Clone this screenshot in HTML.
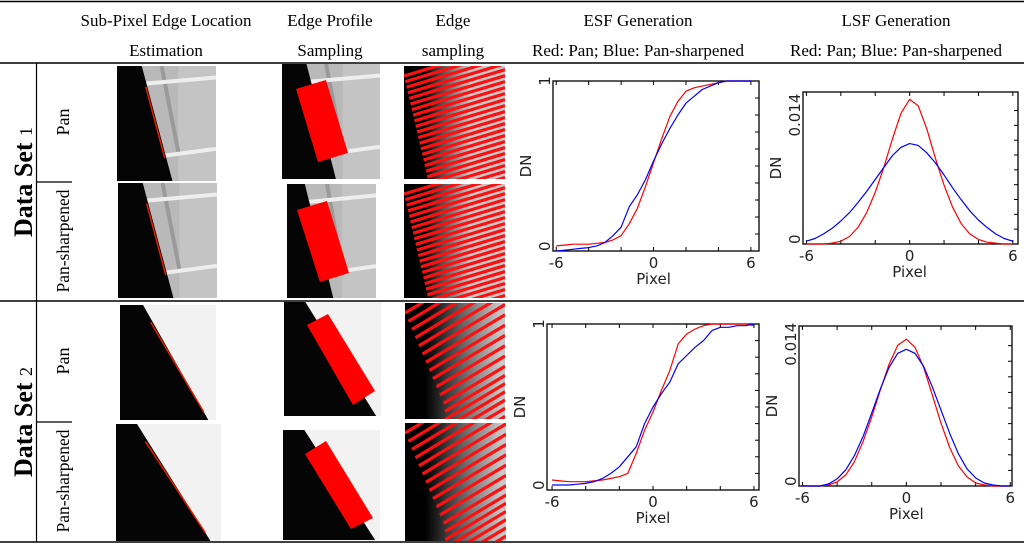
<!DOCTYPE html>
<html><head><meta charset="utf-8"><style>
html,body{margin:0;padding:0;background:#fff;width:1024px;height:544px;overflow:hidden;}
svg{display:block;}
.hd{font-family:"Liberation Serif",serif;font-size:17px;fill:#000;text-anchor:middle;}
.ax{font-family:"DejaVu Sans",sans-serif;font-size:15px;fill:#222;}
</style></head><body>
<svg id="fig" width="1024" height="544" viewBox="0 0 1024 544" xmlns="http://www.w3.org/2000/svg">
<g stroke="#000" fill="none">
<line x1="0" y1="1.5" x2="1024" y2="1.5" stroke-width="1.5"/>
<line x1="0" y1="63" x2="1024" y2="63" stroke-width="1.5"/>
<line x1="0" y1="301" x2="1024" y2="301" stroke-width="1.5"/>
<line x1="0" y1="542" x2="1024" y2="542" stroke-width="1.5"/>
<line x1="36.5" y1="63" x2="36.5" y2="542" stroke-width="1.2"/>
<line x1="36" y1="182" x2="72" y2="182" stroke-width="1.2"/>
<line x1="36" y1="422" x2="72" y2="422" stroke-width="1.2"/>
</g>
<g>
<text class="hd" x="166" y="26">Sub-Pixel Edge Location</text>
<text class="hd" x="166" y="56">Estimation</text>
<text class="hd" x="330" y="26">Edge Profile</text>
<text class="hd" x="330" y="56">Sampling</text>
<text class="hd" x="453" y="26">Edge</text>
<text class="hd" x="453" y="56">sampling</text>
<text class="hd" x="638" y="26">ESF Generation</text>
<text class="hd" x="638" y="56">Red: Pan; Blue: Pan-sharpened</text>
<text class="hd" x="896" y="26">LSF Generation</text>
<text class="hd" x="896" y="56">Red: Pan; Blue: Pan-sharpened</text>
</g>
<g font-family="Liberation Serif, serif" fill="#000">
<text transform="translate(32,182) rotate(-90)" text-anchor="middle" font-size="26" font-weight="bold">Data Set <tspan font-size="18" font-weight="normal">1</tspan></text>
<text transform="translate(32,422) rotate(-90)" text-anchor="middle" font-size="26" font-weight="bold">Data Set <tspan font-size="18" font-weight="normal">2</tspan></text>
<text transform="translate(69,122) rotate(-90)" text-anchor="middle" font-size="18">Pan</text>
<text transform="translate(69,241) rotate(-90)" text-anchor="middle" font-size="17.5">Pan-sharpened</text>
<text transform="translate(69,361) rotate(-90)" text-anchor="middle" font-size="18">Pan</text>
<text transform="translate(69,481) rotate(-90)" text-anchor="middle" font-size="17.5">Pan-sharpened</text>
</g>
<g id="imgs"></g>
<g id="charts"></g>
</svg>
<script>
// ---- chart data ----
const xs = [-6,-5.5,-5,-4.5,-4,-3.5,-3,-2.5,-2,-1.5,-1,-0.5,0,0.5,1,1.5,2,2.5,3,3.5,4,4.5,5,5.5,6];
const esf1Pan = [0.03,0.035,0.04,0.04,0.04,0.045,0.05,0.065,0.09,0.16,0.25,0.38,0.52,0.66,0.79,0.88,0.94,0.96,0.97,0.98,0.99,1,1,1,1];
const esf1Sharp = [0.0,0.005,0.01,0.015,0.02,0.03,0.05,0.09,0.14,0.26,0.33,0.42,0.53,0.63,0.72,0.8,0.87,0.91,0.95,0.97,0.99,1,1,1,1];
const lsf1Pan = [0,0,0,0.0001,0.0003,0.0008,0.0018,0.0034,0.0056,0.0083,0.0114,0.0142,0.0157,0.0150,0.0125,0.0093,0.0064,0.0040,0.0022,0.0011,0.0005,0.0002,0.0001,0,0];
const lsf1Sharp = [0.0003,0.0006,0.0011,0.0017,0.0025,0.0034,0.0045,0.0057,0.0070,0.0083,0.0096,0.0105,0.0109,0.0107,0.0099,0.0088,0.0075,0.0061,0.0048,0.0036,0.0026,0.0018,0.0011,0.0006,0.0003];
const esf2Pan = [0.06,0.055,0.05,0.05,0.05,0.055,0.06,0.07,0.08,0.1,0.22,0.36,0.47,0.6,0.72,0.88,0.94,0.97,0.99,1,1,1,1,1,0.99];
const esf2Sharp = [0.03,0.03,0.03,0.035,0.04,0.05,0.07,0.1,0.14,0.2,0.26,0.4,0.5,0.58,0.65,0.76,0.81,0.86,0.9,0.96,0.98,0.98,0.99,0.99,1];
const lsf2Pan = [0,0,0,0.0001,0.0004,0.0011,0.0024,0.0044,0.0068,0.0095,0.0120,0.0139,0.0145,0.0137,0.0117,0.0090,0.0062,0.0038,0.0020,0.0009,0.0003,0.0001,0,0,0];
const lsf2Sharp = [0,0,0,0.0002,0.0007,0.0016,0.0030,0.0049,0.0072,0.0096,0.0117,0.0131,0.0135,0.0131,0.0118,0.0098,0.0075,0.0052,0.0032,0.0017,0.0008,0.0003,0.0001,0,0];
const xTickLabels = ['-6','0','6'];
const xTickValues = [-6,0,6];

const NS='http://www.w3.org/2000/svg';
function mk(tag, attrs, parent){const e=document.createElementNS(NS,tag);for(const k in attrs)e.setAttribute(k,attrs[k]);parent.appendChild(e);return e;}

function chart(cfg){
  const g=mk('g',{},document.getElementById('charts'));
  
  
  const sx=v=>cfg.x0+(v-cfg.dx[0])/(cfg.dx[1]-cfg.dx[0])*(cfg.x1-cfg.x0);
  const sy=v=>cfg.y1-(v-cfg.dy[0])/(cfg.dy[1]-cfg.dy[0])*(cfg.y1-cfg.y0);
  const box=mk('rect',{x:cfg.x0,y:cfg.y0,width:cfg.x1-cfg.x0,height:cfg.y1-cfg.y0,fill:'none',stroke:'#000','stroke-width':1.3},g);
  
  
  for(let t=-6;t<=6;t+=2){const x=sx(t);
    mk('line',{x1:x,y1:cfg.y0,x2:x,y2:cfg.y0+4,stroke:'#000'},g);
    mk('line',{x1:x,y1:cfg.y1,x2:x,y2:cfg.y1-4,stroke:'#000'},g);}
  for(let i=1;i<10;i++){const y=sy(cfg.dy[0]+(cfg.yTop-cfg.dy[0])*i/10*(cfg.nt||1));
    if(y>cfg.y0+2) mk('line',{x1:cfg.x1,y1:y,x2:cfg.x1-4,y2:y,stroke:'#000'},g);}
  xTickLabels.forEach((lab,i)=>{const t=mk('text',{x:sx(xTickValues[i]),y:cfg.y1+17,class:'ax','text-anchor':'middle'},g);t.textContent=lab;
    
    });
  const xl=mk('text',{x:sx(0),y:cfg.y1+33,class:'ax','text-anchor':'middle','font-size':'16'},g);xl.textContent='Pixel';
  
  
  const yl=mk('text',{transform:`translate(${cfg.x0-22},${(cfg.y0+cfg.y1)/2}) rotate(-90)`,class:'ax','text-anchor':'middle','font-size':'13'},g);yl.textContent='DN';
  
  
  const y0l=mk('text',{transform:`translate(${cfg.x0-3},${sy(0)}) rotate(-90)`,class:'ax','text-anchor':'start','font-size':'14'},g);y0l.textContent='0';
  
  
  const ytl=mk('text',{transform:`translate(${cfg.x0-3},${sy(cfg.yTop)}) rotate(-90)`,class:'ax','text-anchor':'middle','font-size':'14'},g);ytl.textContent=cfg.yTopLabel;
  
  
  [[cfg.pan,'#ff0000','pan-series'],[cfg.sharp,'#0000ff','pan-sharpened-series']].forEach(([arr,col,nm])=>{
    const d=arr.map((v,i)=>(i?'L':'M')+sx(xs[i]).toFixed(1)+','+sy(v).toFixed(1)).join('');
    const p=mk('path',{d:d,fill:'none',stroke:col,'stroke-width':1.2,'stroke-linejoin':'round'},g);
    
    
  });
}
chart({name:'esf-chart-set1',x0:553,x1:759,y0:81,y1:251,dx:[-6.2,6.5],dy:[0,1],yTop:1,yTopLabel:'1',pan:esf1Pan,sharp:esf1Sharp});
chart({name:'lsf-chart-set1',x0:803,x1:1018,y0:92,y1:244,dx:[-6.2,6.3],dy:[0,0.0165],yTop:0.014,yTopLabel:'0.014',nt:1.15,pan:lsf1Pan,sharp:lsf1Sharp});
chart({name:'esf-chart-set2',x0:547,x1:759,y0:324,y1:490,dx:[-6.3,6.3],dy:[0,1],yTop:1,yTopLabel:'1',pan:esf2Pan,sharp:esf2Sharp});
chart({name:'lsf-chart-set2',x0:799,x1:1012,y0:326,y1:486,dx:[-6.2,6.1],dy:[0,0.0158],yTop:0.014,yTopLabel:'0.014',nt:1.1,pan:lsf2Pan,sharp:lsf2Sharp});

// ---- decorative image panels ----
const IM=document.getElementById('imgs');
function panel(name,x,y,w,h,bg){const g=mk('g',{},IM);
  
  
  mk('clipPath',{id:'c'+name},g).appendChild(document.createElementNS(NS,'rect'));
  const cr=g.querySelector('clipPath rect');cr.setAttribute('x',x);cr.setAttribute('y',y);cr.setAttribute('width',w);cr.setAttribute('height',h);
  const inner=mk('g',{'clip-path':`url(#c${name})`},g);
  mk('rect',{x:x,y:y,width:w,height:h,fill:bg},inner);return inner;}
function p(pts){return pts.map(a=>a.join(',')).join(' ');}
function ds1(name,x,y,w,h,ex0,ex1,rect,line){
  const g=panel(name,x,y,w,h,'#b9b9b9');
  mk('rect',{x:x+w*0.62,y:y,width:w*0.38,height:h,fill:'#c4c4c4'},g);
  mk('line',{x1:x+w*0.45,y1:y,x2:x+w*0.62,y2:y+h*0.75,stroke:'#9a9a9a','stroke-width':4},g);
  mk('line',{x1:x+w*0.2,y1:y+h*0.16,x2:x+w,y2:y+h*0.1,stroke:'#eee','stroke-width':4},g);
  mk('line',{x1:x+w*0.3,y1:y+h*0.8,x2:x+w,y2:y+h*0.72,stroke:'#eee','stroke-width':4},g);
  mk('polygon',{points:p([[x,y],[x+w*ex0,y],[x+w*ex1,y+h],[x,y+h]]),fill:'#050505'},g);
  if(line) mk('line',{x1:x+w*(ex0+0.04),y1:y+h*0.18,x2:x+w*(ex0+0.04+(ex1-ex0)*0.62),y2:y+h*0.8,stroke:'#e02000','stroke-width':1.5},g);
  if(rect) mk('polygon',{points:p(rect),fill:'#ff0000'},g);
}
ds1('set1-pan-edge-location',117,66,99,115,0.25,0.56,null,true);
ds1('set1-sharp-edge-location',118,183,99,115,0.25,0.56,null,true);
ds1('set1-pan-edge-profile',282,64,98,115,0.25,0.55,[[296,89],[326,80],[348,153],[318,162]],false);
ds1('set1-sharp-edge-profile',287,184,89,114,0.2,0.52,[[297,210],[327,201],[349,273],[320,282]],false);
function ds2(name,x,y,w,h,ex0,ex1,rect,line){
  const g=panel(name,x,y,w,h,'#f2f2f2');
  mk('polygon',{points:p([[x,y],[x+w*ex0,y],[x+w*ex1,y+h],[x,y+h]]),fill:'#050505'},g);
  if(line) mk('line',{x1:x+w*(ex0+0.08),y1:y+h*0.15,x2:x+w*(ex0+(ex1-ex0)*0.93),y2:y+h*0.93,stroke:'#e02000','stroke-width':1.5},g);
  if(rect) mk('polygon',{points:p(rect),fill:'#ff0000'},g);
}
ds2('set2-pan-edge-location',120,305,96,115,0.24,0.92,null,true);
ds2('set2-sharp-edge-location',116,424,105,117,0.2,0.9,null,true);
ds2('set2-pan-edge-profile',284,302,97,114,0.22,0.95,[[307,325],[328,314],[375,391],[353,405]],false);
ds2('set2-sharp-edge-profile',283,430,97,110,0.22,0.95,[[305,454],[326,441],[373,518],[351,529]],false);
function stripes(name,x,y,w,h,slope,gap,n,shift,grad){
  const g=panel(name,x,y,w,h,'#bdbdbd');
  const gid='g'+name;const lg=mk('linearGradient',{id:gid,x1:0,x2:1,y1:0,y2:0},g);
  mk('stop',{offset:'0.2','stop-color':'#000'},lg);mk('stop',{offset:grad,'stop-color':'#c8c8c8'},lg);
  mk('rect',{x:x,y:y,width:w,height:h,fill:`url(#${gid})`},g);
  for(let i=0;i<n;i++){const yy=y+i*gap;const xs0=x+Math.min(i*shift,w*0.4);
    mk('line',{x1:xs0,y1:yy+10,x2:x+w,y2:yy+10-(x+w-xs0)*slope,stroke:'#ff1010','stroke-width':3.2},g);}
}
stripes('set1-pan-edge-sampling',404,66,101,113,0.3,5.6,28,1.3,'0.65');
stripes('set1-sharp-edge-sampling',404,184,101,114,0.3,5.6,28,1.3,'0.65');
stripes('set2-pan-edge-sampling',405,303,100,116,0.6,8.2,24,3.5,'0.95');
stripes('set2-sharp-edge-sampling',405,423,101,118,0.6,8.2,24,3.5,'0.95');
</script>
</body></html>
